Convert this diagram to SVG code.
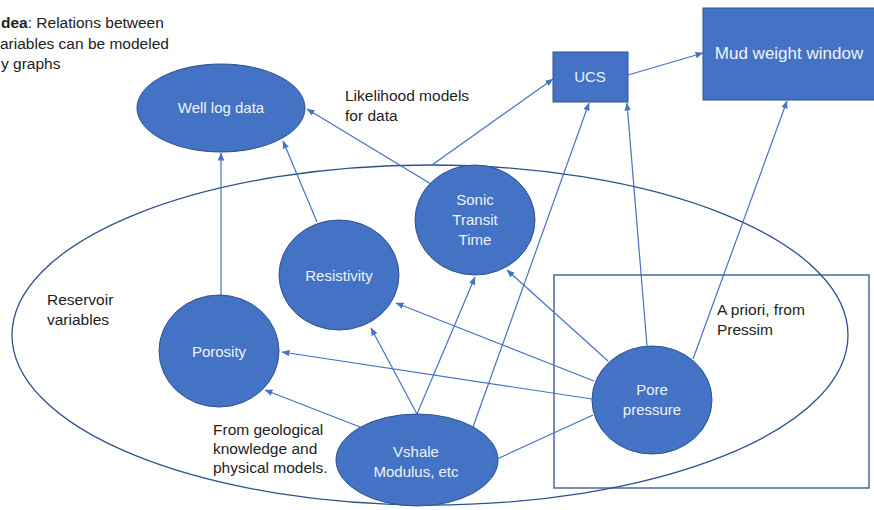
<svg xmlns="http://www.w3.org/2000/svg" width="874" height="510" viewBox="0 0 874 510">
<style>
.bg{fill:#ffffff}
.node{fill:#4472C4;stroke:#2F528F;stroke-width:1}
.nt{font-family:"Liberation Sans",Arial,sans-serif;font-size:15px;fill:#EEF2FA;text-anchor:middle}
.lbl{font-family:"Liberation Sans",Arial,sans-serif;font-size:15.5px;fill:#222222}
.edge{stroke:#4472C4;stroke-width:1.2;fill:none}
.arr{marker-end:url(#ah)}
.group{fill:none;stroke:#2F528F;stroke-width:1.3}
</style>
<defs>
<marker id="ah" markerUnits="userSpaceOnUse" markerWidth="8" markerHeight="8" viewBox="0 0 8 8" refX="7.5" refY="4" orient="auto">
<path d="M0,0.8 L8,4 L0,7.2 Z" fill="#4472C4"/>
</marker>
</defs>
<rect class="bg" x="0" y="0" width="874" height="510"/>

<g id="reservoir-group">
<ellipse class="group" cx="430" cy="335" rx="418" ry="170"/>
</g>
<g id="apriori-box">
<rect class="group" x="554" y="275" width="315" height="213"/>
</g>

<g id="connectors">
<line class="edge arr" x1="431" y1="184" x2="307" y2="109"/>
<line class="edge arr" x1="317" y1="222" x2="283" y2="141"/>
<line class="edge arr" x1="221" y1="295" x2="221" y2="153"/>
<line class="edge arr" x1="432" y1="165" x2="553" y2="79"/>
<line class="edge arr" x1="628" y1="75" x2="703" y2="53"/>
<line class="edge arr" x1="473" y1="427" x2="589" y2="103"/>
<line class="edge arr" x1="647" y1="346" x2="627" y2="103"/>
<line class="edge arr" x1="693" y1="359" x2="787" y2="101"/>
<line class="edge arr" x1="608" y1="361" x2="507" y2="270"/>
<line class="edge arr" x1="594" y1="381" x2="396" y2="303"/>
<line class="edge arr" x1="592" y1="399" x2="282" y2="352"/>
<line class="edge" x1="593" y1="415" x2="497" y2="459"/>
<line class="edge arr" x1="360" y1="427" x2="265" y2="390"/>
<line class="edge arr" x1="417" y1="414" x2="371" y2="328"/>
<line class="edge arr" x1="417" y1="414" x2="475" y2="277"/>
</g>

<g id="well-log-data">
<ellipse class="node" cx="221" cy="108" rx="84" ry="44"/>
<text class="nt" x="221" y="113">Well log data</text>
</g>
<g id="resistivity">
<ellipse class="node" cx="339" cy="275" rx="60" ry="55"/>
<text class="nt" x="339" y="281">Resistivity</text>
</g>
<g id="porosity">
<ellipse class="node" cx="219" cy="351" rx="60" ry="56"/>
<text class="nt" x="219" y="357">Porosity</text>
</g>
<g id="sonic-transit-time">
<ellipse class="node" cx="475" cy="220" rx="60" ry="55"/>
<text class="nt" x="475" y="205">Sonic</text>
<text class="nt" x="475" y="225">Transit</text>
<text class="nt" x="475" y="245">Time</text>
</g>
<g id="vshale-modulus">
<ellipse class="node" cx="417" cy="460" rx="81" ry="46"/>
<text class="nt" x="416" y="457">Vshale</text>
<text class="nt" x="416" y="477">Modulus, etc</text>
</g>
<g id="pore-pressure">
<ellipse class="node" cx="652" cy="400" rx="60" ry="54"/>
<text class="nt" x="652" y="395">Pore</text>
<text class="nt" x="652" y="415">pressure</text>
</g>
<g id="ucs">
<rect class="node" x="553" y="52" width="75" height="50"/>
<text class="nt" x="590" y="82">UCS</text>
</g>
<g id="mud-weight-window">
<rect class="node" x="703" y="8" width="172" height="92"/>
<text class="nt" x="789" y="59" style="font-size:17px">Mud weight window</text>
</g>

<g id="labels">
<text class="lbl" x="1" y="28"><tspan font-weight="bold">dea</tspan>: Relations between</text>
<text class="lbl" x="0" y="49">ariables can be modeled</text>
<text class="lbl" x="1" y="69">y graphs</text>
<text class="lbl" x="345" y="101">Likelihood models</text>
<text class="lbl" x="345" y="121">for data</text>
<text class="lbl" x="47" y="305">Reservoir</text>
<text class="lbl" x="47" y="325">variables</text>
<text class="lbl" x="213" y="435">From geological</text>
<text class="lbl" x="213" y="454">knowledge and</text>
<text class="lbl" x="213" y="473">physical models.</text>
<text class="lbl" x="717" y="315">A priori, from</text>
<text class="lbl" x="717" y="335">Pressim</text>
</g>
</svg>
